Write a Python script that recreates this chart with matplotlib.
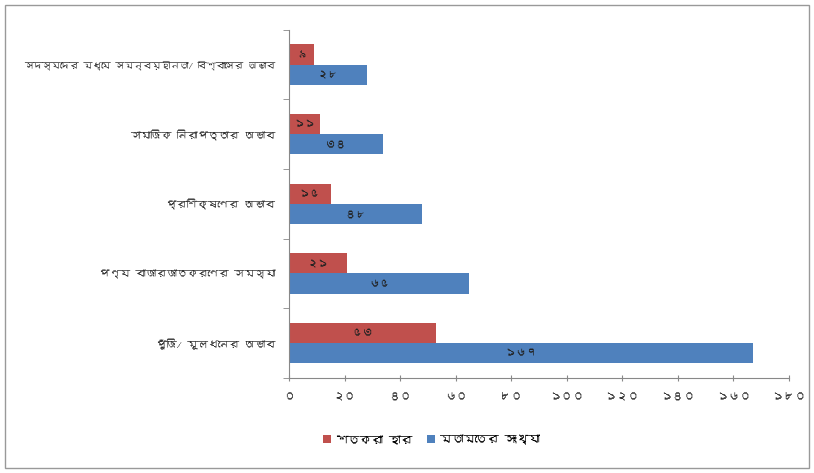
"""
Horizontal grouped bar chart: problems faced (Bengali labels),
percentage vs number of opinions.
"""

import matplotlib
matplotlib.use("Agg")
import matplotlib.pyplot as plt
from matplotlib import font_manager, ft2font
from matplotlib.patches import Rectangle
import numpy as np

CATEGORIES = [
    "সদস্যদের মধ্যে সমন্বয়হীনতা/ বিশ্বাসের অভাব",
    "সামাজিক নিরাপত্তার অভাব",
    "প্রশিক্ষণের অভাব",
    "পণ্য বাজারজাতকরণের সমস্যা",
    "পুঁজি/ মূলধনের অভাব",
]
PERCENT = [9, 11, 15, 21, 53]
OPINIONS = [28, 34, 48, 65, 167]
XTICKS = [0, 20, 40, 60, 80, 100, 120, 140, 160, 180]
LEGEND_LABELS = ["শতকরা হার", "মতামতের সংখ্যা"]

RED = "#C0504D"
BLUE = "#4F81BD"

BN_DIGITS = str.maketrans("0123456789", "০১২৩৪৫৬৭৮৯")


def bn(n):
    return str(n).translate(BN_DIGITS)


def find_bengali_font():
    for f in font_manager.fontManager.ttflist:
        try:
            cmap = ft2font.FT2Font(f.fname).get_charmap()
        except Exception:
            continue
        if 0x0995 in cmap:
            return f.name
    return None


bn_font = find_bengali_font()
families = [bn_font, "DejaVu Sans"] if bn_font else ["DejaVu Sans"]
plt.rcParams["font.family"] = families

fig = plt.figure(figsize=(8.14, 4.73), dpi=100)
ax = fig.add_axes([0.355, 0.201, 0.614, 0.736])

n = len(CATEGORIES)
y = np.arange(n)
h = 0.29
red_bars = ax.barh(y - h / 2, PERCENT, height=h, color=RED, label=LEGEND_LABELS[0])
blue_bars = ax.barh(y + h / 2, OPINIONS, height=h, color=BLUE, label=LEGEND_LABELS[1])

for bars, vals in [(red_bars, PERCENT), (blue_bars, OPINIONS)]:
    for b, v in zip(bars, vals):
        ax.text(b.get_x() + b.get_width() / 2, b.get_y() + b.get_height() / 2,
                bn(v), ha="center", va="center", fontsize=8, color="#222222")

ax.set_ylim(n - 0.5, -0.5)
ax.set_xlim(0, 180)
ax.set_yticks(y)
ax.set_yticklabels(CATEGORIES, fontsize=7.5, color="#333333")
# the long top label would run off the left edge in this font
ax.get_yticklabels()[0].set_fontsize(6.6)
ax.set_yticks(np.arange(-0.5, n, 1.0), minor=True)
ax.tick_params(axis="y", which="major", length=0, pad=10)
ax.tick_params(axis="y", which="minor", length=4, direction="out", color="#888888")

ax.set_xticks(XTICKS)
ax.set_xticklabels([bn(t) for t in XTICKS], fontsize=8.5, color="#333333")
ax.tick_params(axis="x", length=5, direction="inout", color="#888888", pad=8)

for side in ["top", "right"]:
    ax.spines[side].set_visible(False)
for side in ["left", "bottom"]:
    ax.spines[side].set_color("#888888")

fig.legend(handles=[red_bars, blue_bars], labels=LEGEND_LABELS,
           loc="center", bbox_to_anchor=(0.53, 0.07), ncol=2, frameon=False,
           fontsize=8.5, handlelength=0.7, handleheight=0.7, columnspacing=1.2,
           handletextpad=0.4)

fig.patches.append(Rectangle((0.006, 0.01), 0.988, 0.98, transform=fig.transFigure,
                             fill=False, edgecolor="#999999", linewidth=1))

fig.savefig("out.png", dpi=100)
